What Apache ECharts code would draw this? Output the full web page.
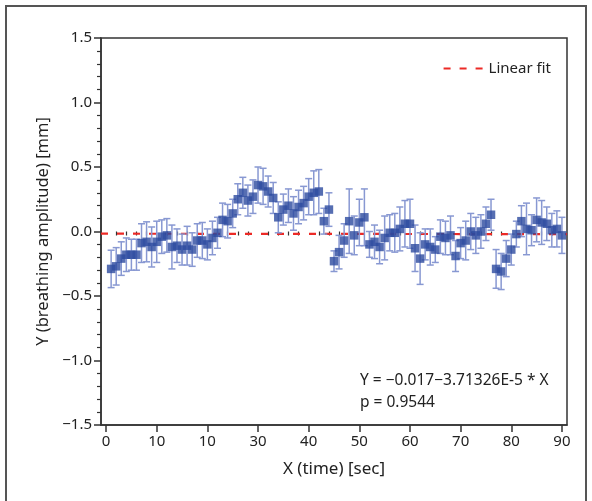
<!DOCTYPE html>
<html>
<head>
<meta charset="utf-8">
<script src="https://cdn.jsdelivr.net/npm/echarts@6/dist/echarts.min.js"></script>
<style>html,body{margin:0;padding:0;background:#fff}#c{width:592px;height:501px}</style>
</head>
<body>
<div id="c"></div>
<script>
// ---- data ----
const timeSec = [1,2,3,4,5,6,7,8,9,10,11,12,13,14,15,16,17,18,19,20,21,22,23,24,25,26,27,28,29,30,
  31,32,33,34,35,36,37,38,39,40,41,42,43,44,45,46,47,48,49,50,51,52,53,54,55,56,57,58,59,60,
  61,62,63,64,65,66,67,68,69,70,71,72,73,74,75,76,77,78,79,80,81,82,83,84,85,86,87,88,89,90];
const amplitude = [-0.29,-0.27,-0.21,-0.18,-0.18,-0.18,-0.09,-0.08,-0.12,-0.08,-0.04,-0.03,-0.12,-0.11,-0.14,-0.11,-0.14,-0.07,-0.07,-0.10,
  -0.05,-0.01,0.09,0.08,0.14,0.25,0.30,0.24,0.27,0.36,0.35,0.31,0.26,0.11,0.17,0.20,0.14,0.19,0.22,0.27,
  0.30,0.31,0.08,0.17,-0.23,-0.16,-0.07,0.08,-0.03,0.07,0.11,-0.10,-0.08,-0.12,-0.05,-0.01,-0.01,0.02,0.06,0.06,
  -0.13,-0.21,-0.10,-0.12,-0.14,-0.04,-0.05,-0.03,-0.19,-0.09,-0.07,0.00,-0.03,0.00,0.06,0.13,-0.29,-0.31,-0.21,-0.14,
  -0.02,0.08,0.02,0.01,0.09,0.07,0.06,0.01,0.02,-0.03];
const errHalf = [0.145,0.145,0.13,0.13,0.12,0.12,0.15,0.155,0.155,0.16,0.13,0.13,0.17,0.13,0.12,0.15,0.13,0.13,0.14,0.12,
  0.13,0.12,0.13,0.13,0.11,0.12,0.12,0.12,0.13,0.14,0.14,0.12,0.12,0.12,0.12,0.13,0.13,0.13,0.13,0.14,
  0.17,0.17,0.10,0.13,0.08,0.13,0.13,0.25,0.15,0.18,0.22,0.10,0.13,0.13,0.17,0.14,0.15,0.17,0.18,0.19,
  0.18,0.20,0.12,0.14,0.10,0.13,0.13,0.15,0.12,0.12,0.15,0.14,0.14,0.13,0.13,0.12,0.15,0.14,0.14,0.12,
  0.10,0.12,0.20,0.12,0.17,0.17,0.13,0.13,0.14,0.14];
const fitX = [-1, 91];
const fitY = [-0.017, -0.0204];
const xMajorTicks = [0,10,20,30,40,50,60,70,80,90];
const xTickLabels = ['0','10','10','30','40','50','60','70','80','90'];
const xMinorTicks = [2,4,6,8,12,14,16,18,22,24,26,28,32,34,36,38,42,44,46,48,52,54,56,58,62,64,66,68,72,74,76,78,82,84,86,88];
const yTicks = [-1.5,-1.0,-0.5,0.0,0.5,1.0,1.5];
const fitText = 'Y = \u22120.017\u22123.71326E-5 * X';
const pText = 'p = 0.9544';

const FONT = 'Noto Sans';
const points = timeSec.map((t,i)=>[t, amplitude[i]]);
const bars = timeSec.map((t,i)=>[t, amplitude[i]-errHalf[i], amplitude[i]+errHalf[i]]);
const fitData = fitX.map((x,i)=>[x, fitY[i]]);

const chart = echarts.init(document.getElementById('c'), null, {renderer:'canvas'});
chart.setOption({
  animation:false,
  backgroundColor:'#fff',
  textStyle:{fontFamily:FONT},
  grid:{left:101, right:25, top:38, bottom:76, show:true, borderColor:'#333', borderWidth:1.5, backgroundColor:'transparent'},
  legend:{
    data:[{name:'Linear fit'}],
    top:56, right:36, itemWidth:40, itemHeight:14, itemGap:6,
    itemStyle:{opacity:0},
    textStyle:{fontFamily:FONT, fontSize:15, color:'#222'}
  },
  xAxis:[{
    type:'value', min:-1, max:91,
    name:'X (time) [sec]', nameLocation:'middle', nameGap:36,
    nameTextStyle:{fontFamily:FONT, fontSize:17, color:'#222'},
    axisLine:{show:true, onZero:false, lineStyle:{color:'#333', width:1.5}},
    axisTick:{show:true, customValues:xMajorTicks, length:7, inside:false, lineStyle:{color:'#333', width:1.5}},
    axisLabel:{customValues:xMajorTicks, fontFamily:FONT, fontSize:15, color:'#222', margin:9,
      formatter:(v)=>{const i=xMajorTicks.indexOf(Math.round(v)); return i>=0?xTickLabels[i]:'';}},
    splitLine:{show:false}
  },{
    type:'value', min:-1, max:91, position:'bottom',
    axisLine:{show:false},
    axisTick:{show:true, customValues:xMinorTicks, length:4, lineStyle:{color:'#333', width:1.2}},
    axisLabel:{show:false},
    splitLine:{show:false}
  }],
  yAxis:{
    type:'value', min:-1.5, max:1.5, interval:0.5,
    name:'Y (breathing amplitude) [mm]', nameLocation:'middle', nameGap:48,
    nameTextStyle:{fontFamily:FONT, fontSize:16.5, color:'#222'},
    axisLine:{show:true, onZero:false, lineStyle:{color:'#333', width:1.5}},
    axisTick:{show:true, length:7, lineStyle:{color:'#333', width:1.5}},
    minorTick:{show:true, splitNumber:5, length:4, lineStyle:{color:'#333', width:1.2}},
    axisLabel:{fontFamily:FONT, fontSize:15, color:'#222', margin:9,
      formatter:(v)=>{const t=yTicks.find(y=>Math.abs(y-v)<1e-6); const s=(t===undefined?v:t).toFixed(1); return s.replace('-','\u2212');}},
    splitLine:{show:false}, minorSplitLine:{show:false}
  },
  series:[{
    name:'Linear fit', type:'line', data:fitData, symbol:'none', showSymbol:false,
    lineStyle:{color:'#EC2A26', width:2.2, type:[7,9]}, z:1, silent:true
  },{
    name:'err', type:'custom', data:bars, z:2, silent:true,
    renderItem:(params, api)=>{
      const x=api.value(0);
      const lo=api.coord([x, api.value(1)]);
      const hi=api.coord([x, api.value(2)]);
      const hw=3.5;
      const st={stroke:'#8898D2', lineWidth:1.5};
      return {type:'group', children:[
        {type:'line', shape:{x1:lo[0], y1:lo[1], x2:hi[0], y2:hi[1]}, style:st},
        {type:'line', shape:{x1:lo[0]-hw, y1:lo[1], x2:lo[0]+hw, y2:lo[1]}, style:st},
        {type:'line', shape:{x1:hi[0]-hw, y1:hi[1], x2:hi[0]+hw, y2:hi[1]}, style:st}
      ]};
    }
  },{
    name:'data', type:'scatter', data:points, symbol:'rect', symbolSize:8.5,
    itemStyle:{color:'#2C4A9F'}, z:3, silent:true
  }],
  graphic:[
    {type:'rect', shape:{x:6, y:6, width:580, height:500}, style:{fill:'none', stroke:'#555', lineWidth:2}, z:-1, silent:true},
    {type:'text', left:360, top:373, style:{text:fitText, fontFamily:FONT, fontSize:15.5, fill:'#222'}},
    {type:'text', left:360, top:395, style:{text:pText, fontFamily:FONT, fontSize:15.5, fill:'#222'}}
  ]
});
</script>
</body>
</html>
